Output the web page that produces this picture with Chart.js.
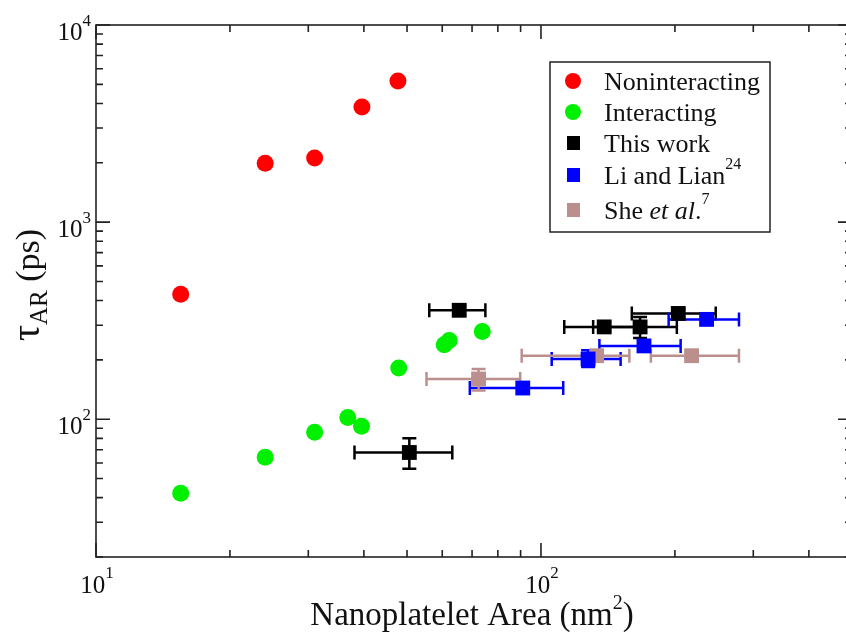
<!DOCTYPE html>
<html>
<head>
<meta charset="utf-8">
<script src="https://cdn.jsdelivr.net/npm/chart.js@4.4.1/dist/chart.umd.min.js"></script>
<style>
  html, body { margin: 0; padding: 0; background: #fff; overflow: hidden; }
  #wrap { width: 856px; height: 640px; }
</style>
</head>
<body>
<div id="wrap"><canvas id="myChart" width="856" height="640"></canvas></div>
<script>
// values (x = area in nm^2, y = tau_AR in ps)
const nonintX = [15.5, 24.0, 31.0, 39.6, 47.7];
const nonintY = [431, 1990, 2114, 3840, 5200];

const interX = [15.5, 24.0, 31.0, 36.8, 39.5, 47.9, 60.6, 62.2, 73.8];
const interY = [42.1, 64.1, 85.9, 102, 92.1, 182, 239, 251, 279];

// this work (with error ranges)
const workX   = [50.6, 65.5, 138.7, 167, 203.5];
const workXlo = [38.1, 56.1, 112.8, 131, 160];
const workXhi = [63.2, 75.0, 170, 202, 247];
const workY   = [67.8, 357, 294, 294, 344];
const workYlo = [56.0, 340, 280, 258, 328];
const workYhi = [80.1, 375, 310, 330, 362];

// Li and Lian
const liX   = [91.0, 127.6, 170.4, 235.6];
const liXlo = [69.2, 105.7, 135.3, 193.6];
const liXhi = [112.2, 151, 206, 278.6];
const liY   = [144, 202, 235.5, 321];
const liYlo = [144, 184, 228, 321];
const liYhi = [144, 224, 244, 321];

// She et al.
const sheX   = [72.4, 133.4, 218];
const sheXlo = [55.3, 90.5, 176.6];
const sheXhi = [89.8, 158, 278.6];
const sheY   = [160, 210, 210];
const sheYlo = [140, 198, 210];
const sheYhi = [180, 222, 210];

// axis labels
const xMajor = [10, 100];
const yMajor = [100, 1000, 10000];

function pts(xs, ys, xlo, xhi, ylo, yhi) {
  return xs.map((x, i) => {
    const p = { x: x, y: ys[i] };
    if (xlo) { p.xlo = xlo[i]; p.xhi = xhi[i]; p.ylo = ylo[i]; p.yhi = yhi[i]; }
    return p;
  });
}

const RED = '#ff0000', GREEN = '#00f000', BLACK = '#000000', BLUE = '#0000ff', BROWN = '#bc8f8f';

const data = {
  datasets: [
    { label: 'Noninteracting', data: pts(nonintX, nonintY), backgroundColor: RED, borderColor: RED, pointRadius: 8.5, pointStyle: 'circle', borderWidth: 0 },
    { label: 'Interacting', data: pts(interX, interY), backgroundColor: GREEN, borderColor: GREEN, pointRadius: 8.5, pointStyle: 'circle', borderWidth: 0 },
    { label: 'This work', data: pts(workX, workY, workXlo, workXhi, workYlo, workYhi), backgroundColor: BLACK, borderColor: BLACK, pointRadius: 10.5, pointStyle: 'rect', borderWidth: 0 },
    { label: 'Li and Lian', data: pts(liX, liY, liXlo, liXhi, liYlo, liYhi), backgroundColor: BLUE, borderColor: BLUE, pointRadius: 10.5, pointStyle: 'rect', borderWidth: 0 },
    { label: 'She et al.', data: pts(sheX, sheY, sheXlo, sheXhi, sheYlo, sheYhi), backgroundColor: BROWN, borderColor: BROWN, pointRadius: 10.5, pointStyle: 'rect', borderWidth: 0 }
  ]
};

const SERIF = '"Liberation Serif", "Times New Roman", serif';

// error bars under the markers
const errorBars = {
  id: 'errorBars',
  beforeDatasetsDraw(chart) {
    const ctx = chart.ctx, xs = chart.scales.x, ys = chart.scales.y;
    const cap = 7;
    ctx.save();
    ctx.lineWidth = 2.5;
    chart.data.datasets.forEach(ds => {
      ctx.strokeStyle = ds.borderColor;
      ds.data.forEach(p => {
        if (p.xlo === undefined) return;
        const px = xs.getPixelForValue(p.x), py = ys.getPixelForValue(p.y);
        const x1 = xs.getPixelForValue(p.xlo), x2 = xs.getPixelForValue(p.xhi);
        ctx.beginPath();
        ctx.moveTo(x1, py); ctx.lineTo(x2, py);
        ctx.moveTo(x1, py - cap); ctx.lineTo(x1, py + cap);
        ctx.moveTo(x2, py - cap); ctx.lineTo(x2, py + cap);
        ctx.stroke();
        if (p.ylo !== p.yhi) {
          const y1 = ys.getPixelForValue(p.ylo), y2 = ys.getPixelForValue(p.yhi);
          ctx.beginPath();
          ctx.moveTo(px, y1); ctx.lineTo(px, y2);
          ctx.moveTo(px - cap, y1); ctx.lineTo(px + cap, y1);
          ctx.moveTo(px - cap, y2); ctx.lineTo(px + cap, y2);
          ctx.stroke();
        }
      });
    });
    ctx.restore();
  }
};

function supText(ctx, parts, x, y, align) {
  // parts: [text, font, dy]
  let w = 0;
  parts.forEach(p => { ctx.font = p[1]; w += ctx.measureText(p[0]).width; });
  let cx = align === 'center' ? x - w / 2 : (align === 'right' ? x - w : x);
  ctx.textAlign = 'left';
  ctx.textBaseline = 'alphabetic';
  parts.forEach(p => {
    ctx.font = p[1];
    ctx.fillText(p[0], cx, y + (p[2] || 0));
    cx += ctx.measureText(p[0]).width;
  });
}

function decadeTicks(min, max) {
  const out = [];
  for (let d = Math.pow(10, Math.floor(Math.log10(min))); d <= max; d *= 10) {
    for (let k = 1; k <= 9; k++) {
      const v = k * d;
      if (v >= min && v <= max) out.push({ v: v, major: k === 1 });
    }
  }
  return out;
}

// frame, inward ticks, tick labels and titles
const axesFrame = {
  id: 'axesFrame',
  afterDraw(chart) {
    const ctx = chart.ctx, a = chart.chartArea, xs = chart.scales.x, ys = chart.scales.y;
    ctx.save();
    ctx.strokeStyle = '#222';
    ctx.lineWidth = 1.6;
    ctx.strokeRect(a.left, a.top, a.right - a.left, a.bottom - a.top);
    ctx.beginPath();
    decadeTicks(xs.min, xs.max).forEach(t => {
      const px = xs.getPixelForValue(t.v), len = t.major ? 14 : 7;
      ctx.moveTo(px, a.bottom); ctx.lineTo(px, a.bottom - len);
      ctx.moveTo(px, a.top); ctx.lineTo(px, a.top + len);
    });
    decadeTicks(ys.min, ys.max).forEach(t => {
      const py = ys.getPixelForValue(t.v), len = t.major ? 14 : 7;
      ctx.moveTo(a.left, py); ctx.lineTo(a.left + len, py);
      ctx.moveTo(a.right, py); ctx.lineTo(a.right - len, py);
    });
    ctx.stroke();

    ctx.fillStyle = '#111';
    const big = '25px ' + SERIF, small = '17px ' + SERIF;
    xMajor.forEach(v => {
      const px = xs.getPixelForValue(v);
      supText(ctx, [['10', big, 0], [String(Math.round(Math.log10(v))), small, -15]], px + 1, 593, 'center');
    });
    yMajor.forEach(v => {
      const py = ys.getPixelForValue(v);
      supText(ctx, [['10', big, 0], [String(Math.round(Math.log10(v))), small, -14]], 91, py + 15, 'right');
    });

    // x title
    supText(ctx, [['Nanoplatelet Area (nm', '33px ' + SERIF, 0], ['2', '20px ' + SERIF, -16], [')', '33px ' + SERIF, 0]], 472, 625, 'center');

    // y title (rotated)
    ctx.save();
    ctx.translate(39, 285);
    ctx.rotate(-Math.PI / 2);
    supText(ctx, [['\u03c4', '40px ' + SERIF, 0], ['AR', '25px ' + SERIF, 8], [' (ps)', '34px ' + SERIF, 0]], 0, 0, 'center');
    ctx.restore();

    // legend box
    const lx = 550, ly = 62, lw = 220, lh = 170;
    ctx.fillStyle = '#fff';
    ctx.fillRect(lx, ly, lw, lh);
    ctx.lineWidth = 1.5;
    ctx.strokeStyle = '#222';
    ctx.strokeRect(lx, ly, lw, lh);
    const rows = [81, 112, 143, 175, 210];
    const f = '26px ' + SERIF, fs = '16px ' + SERIF, fi = 'italic 26px ' + SERIF;
    chart.data.datasets.forEach((ds, i) => {
      const my = rows[i];
      ctx.fillStyle = ds.backgroundColor;
      if (ds.pointStyle === 'circle') {
        ctx.beginPath(); ctx.arc(573, my, 8, 0, Math.PI * 2); ctx.fill();
      } else {
        ctx.fillRect(567, my - 7, 13, 14);
      }
    });
    ctx.fillStyle = '#111';
    supText(ctx, [['Noninteracting', f, 0]], 604, rows[0] + 9, 'left');
    supText(ctx, [['Interacting', f, 0]], 604, rows[1] + 9, 'left');
    supText(ctx, [['This work', f, 0]], 604, rows[2] + 9, 'left');
    supText(ctx, [['Li and Lian', f, 0], ['24', fs, -15]], 604, rows[3] + 9, 'left');
    supText(ctx, [['She ', f, 0], ['et al', fi, 0], ['.', f, 0], ['7', fs, -15]], 604, rows[4] + 9, 'left');
    ctx.restore();
  }
};

const ctx = document.getElementById('myChart');
const chart = new Chart(ctx, {
  type: 'scatter',
  data: data,
  options: {
    responsive: false,
    animation: false,
    // canvas is a bit wider than the window: the right frame sits just past the picture edge
    layout: { autoPadding: false, padding: { left: 96, top: 25, right: 4, bottom: 83 } },
    plugins: { legend: { display: false }, tooltip: { enabled: false } },
    scales: {
      x: { type: 'logarithmic', min: 10, max: 500, display: false },
      y: { type: 'logarithmic', min: 20, max: 10000, display: false }
    }
  },
  plugins: [errorBars, axesFrame]
});
</script>
</body>
</html>
